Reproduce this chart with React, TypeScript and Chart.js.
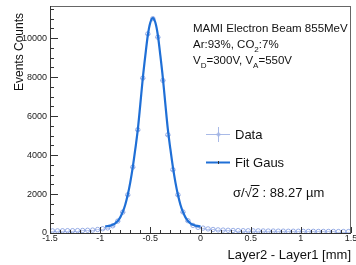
import React, { useEffect, useRef } from 'react';
import { Chart, registerables } from 'chart.js';

Chart.register(...registerables);

// ---- data ----
const binCenters = [
  -1.475, -1.425, -1.375, -1.325, -1.275, -1.225, -1.175, -1.125, -1.075, -1.025,
  -0.975, -0.925, -0.875, -0.825, -0.775, -0.725, -0.675, -0.625, -0.575, -0.525,
  -0.475, -0.425, -0.375, -0.325, -0.275, -0.225, -0.175, -0.125, -0.075, -0.025,
  0.025, 0.075, 0.125, 0.175, 0.225, 0.275, 0.325, 0.375, 0.425, 0.475,
  0.525, 0.575, 0.625, 0.675, 0.725, 0.775, 0.825, 0.875, 0.925, 0.975,
  1.025, 1.075, 1.125, 1.175, 1.225, 1.275, 1.325, 1.375, 1.425, 1.475,
];
const counts = [
  110, 110, 115, 120, 120, 125, 130, 140, 150, 180,
  220, 260, 370, 610, 1070, 1960, 3380, 5300, 7950, 10220,
  11000, 10050, 7830, 5040, 3250, 1960, 1080, 630, 390, 290,
  250, 210, 180, 160, 150, 140, 130, 125, 120, 115,
  110, 110, 105, 100, 100, 95, 95, 90, 90, 90,
  85, 85, 85, 80, 80, 80, 80, 75, 75, 75,
];
const fitX = [
  -0.95, -0.925, -0.9, -0.875, -0.85, -0.825, -0.8, -0.775, -0.75, -0.725,
  -0.7, -0.675, -0.65, -0.625, -0.6, -0.575, -0.55, -0.525, -0.5, -0.475,
  -0.45, -0.425, -0.4, -0.375, -0.35, -0.325, -0.3, -0.275, -0.25, -0.225,
  -0.2, -0.175, -0.15, -0.125, -0.1, -0.075, -0.05, -0.025, 0.0,
];
const fitY = [
  340, 350, 380, 420, 500, 620, 800, 1080, 1450, 1960,
  2600, 3380, 4300, 5300, 6600, 7950, 9100, 10150, 10800, 11030,
  10800, 10150, 9100, 7950, 6600, 5300, 4300, 3380, 2600, 1960,
  1450, 1080, 800, 620, 500, 420, 380, 350, 340,
];
const xMin = -1.5;
const xMax = 1.5;
const yMin = 0;
const yMax = 11650;
const binHalfWidth = 0.025;

const xMajorTicks = [-1.5, -1, -0.5, 0, 0.5, 1, 1.5];
const xTickLabels = ['-1.5', '-1', '-0.5', '0', '0.5', '1', '1.5'];
const xMinorStep = 0.1;
const yMajorTicks = [0, 2000, 4000, 6000, 8000, 10000];
const yTickLabels = ['0', '2000', '4000', '6000', '8000', '10000'];
const yMinorStep = 500;

const xTitle = 'Layer2 - Layer1 [mm]';
const yTitle = 'Events Counts';
const infoLine1 = 'MAMI Electron Beam 855MeV';
const legendData = 'Data';
const legendFit = 'Fit Gaus';
const sigmaText = ['σ/√', '2', ' : 88.27 µm'];

const FONT = '"Liberation Sans", Arial, Helvetica, sans-serif';
const FIT_COLOR = '#1f6fd6';
const DATA_COLOR = 'rgba(120,148,222,0.75)';
const ERR_COLOR = 'rgba(150,170,225,0.55)';

type Part = { t: string; sub?: boolean };

function drawRich(ctx: CanvasRenderingContext2D, parts: Part[], x: number, y: number, size: number) {
  let cx = x;
  parts.forEach((p) => {
    const s = p.sub ? size * 0.7 : size;
    ctx.font = `${s}px ${FONT}`;
    ctx.fillText(p.t, cx, p.sub ? y + size * 0.35 : y);
    cx += ctx.measureText(p.t).width;
  });
}

const errorBars = {
  id: 'errorBars',
  beforeDatasetsDraw(chart: any) {
    const { ctx, scales } = chart;
    const xs = scales.x;
    const ys = scales.y;
    ctx.save();
    ctx.strokeStyle = ERR_COLOR;
    ctx.lineWidth = 1;
    ctx.beginPath();
    binCenters.forEach((c, i) => {
      const n = counts[i];
      const e = Math.sqrt(n);
      const py = Math.round(ys.getPixelForValue(n)) + 0.5;
      ctx.moveTo(xs.getPixelForValue(c - binHalfWidth), py);
      ctx.lineTo(xs.getPixelForValue(c + binHalfWidth), py);
      const px = Math.round(xs.getPixelForValue(c)) + 0.5;
      ctx.moveTo(px, ys.getPixelForValue(n - e));
      ctx.lineTo(px, ys.getPixelForValue(n + e));
    });
    ctx.stroke();
    ctx.restore();
  },
};

const overlay = {
  id: 'overlay',
  afterDraw(chart: any) {
    const { ctx, chartArea: a, scales } = chart;
    const xs = scales.x;
    const ys = scales.y;
    ctx.save();
    // frame
    ctx.strokeStyle = '#666';
    ctx.lineWidth = 1;
    ctx.strokeRect(a.left + 0.5, a.top + 0.5, a.right - a.left - 1, a.bottom - a.top);
    // axes
    ctx.strokeStyle = '#333';
    ctx.beginPath();
    ctx.moveTo(a.left + 0.5, a.top);
    ctx.lineTo(a.left + 0.5, a.bottom + 0.5);
    ctx.lineTo(a.right, a.bottom + 0.5);
    // y ticks (minor + major)
    for (let k = 0; yMin + k * yMinorStep <= yMax + 1e-9; k++) {
      const v = yMin + k * yMinorStep;
      const y = Math.round(ys.getPixelForValue(v)) + 0.5;
      const len = yMajorTicks.includes(v) ? 8 : 4;
      ctx.moveTo(a.left, y);
      ctx.lineTo(a.left + len, y);
    }
    // x ticks
    const nx = Math.round((xMax - xMin) / xMinorStep);
    for (let k = 0; k <= nx; k++) {
      const v = xMin + k * xMinorStep;
      const x = Math.round(xs.getPixelForValue(v)) + 0.5;
      const isMajor = xMajorTicks.some((m) => Math.abs(m - v) < 1e-6);
      const len = isMajor ? 6 : 3;
      ctx.moveTo(x, a.bottom);
      ctx.lineTo(x, a.bottom - len);
    }
    ctx.stroke();

    // tick labels
    ctx.fillStyle = '#222';
    ctx.font = `9px ${FONT}`;
    ctx.textAlign = 'right';
    ctx.textBaseline = 'middle';
    yMajorTicks.forEach((v, i) => {
      ctx.fillText(yTickLabels[i], a.left - 3, ys.getPixelForValue(v));
    });
    ctx.textAlign = 'center';
    xMajorTicks.forEach((v, i) => {
      ctx.fillText(xTickLabels[i], xs.getPixelForValue(v), a.bottom + 5.5);
    });

    // axis titles
    ctx.fillStyle = '#111';
    ctx.font = `13px ${FONT}`;
    ctx.textAlign = 'right';
    ctx.textBaseline = 'middle';
    ctx.fillText(xTitle, a.right, 255);
    ctx.save();
    ctx.translate(20, 13);
    ctx.rotate(-Math.PI / 2);
    ctx.font = `12px ${FONT}`;
    ctx.textAlign = 'right';
    ctx.fillText(yTitle, 0, 0);
    ctx.restore();

    // info text
    ctx.textAlign = 'left';
    ctx.textBaseline = 'alphabetic';
    ctx.font = `11.5px ${FONT}`;
    ctx.fillText(infoLine1, 193, 32);
    drawRich(ctx, [{ t: 'Ar:93%, CO' }, { t: '2', sub: true }, { t: ':7%' }], 193, 48, 11.5);
    drawRich(
      ctx,
      [{ t: 'V' }, { t: 'D', sub: true }, { t: '=300V, V' }, { t: 'A', sub: true }, { t: '=550V' }],
      193,
      64,
      11.5
    );

    // legend: Data
    ctx.strokeStyle = 'rgba(160,178,228,0.9)';
    ctx.lineWidth = 1;
    ctx.beginPath();
    ctx.moveTo(206, 134.5);
    ctx.lineTo(230, 134.5);
    ctx.moveTo(218.5, 127);
    ctx.lineTo(218.5, 142);
    ctx.stroke();
    ctx.beginPath();
    ctx.arc(218.5, 134.5, 1.6, 0, Math.PI * 2);
    ctx.stroke();
    // legend: Fit
    ctx.strokeStyle = FIT_COLOR;
    ctx.lineWidth = 2;
    ctx.beginPath();
    ctx.moveTo(206, 162.5);
    ctx.lineTo(230, 162.5);
    ctx.stroke();
    ctx.strokeStyle = '#333';
    ctx.lineWidth = 1;
    ctx.beginPath();
    ctx.moveTo(218.5, 161);
    ctx.lineTo(218.5, 164);
    ctx.stroke();

    ctx.fillStyle = '#111';
    ctx.font = `13px ${FONT}`;
    ctx.textBaseline = 'middle';
    ctx.fillText(legendData, 235, 135);
    ctx.fillText(legendFit, 235, 163);
    // sigma text with overline over radicand
    ctx.textBaseline = 'alphabetic';
    const sx = 233;
    const sy = 197;
    ctx.fillText(sigmaText.join(''), sx, sy);
    const w1 = ctx.measureText(sigmaText[0]).width;
    const w2 = ctx.measureText(sigmaText[1]).width;
    ctx.strokeStyle = '#111';
    ctx.lineWidth = 1;
    ctx.beginPath();
    ctx.moveTo(sx + w1 - 1, sy - 11.5);
    ctx.lineTo(sx + w1 + w2 + 0.5, sy - 11.5);
    ctx.stroke();

    ctx.restore();
  },
};

export default function App() {
  const ref = useRef<HTMLCanvasElement | null>(null);
  useEffect(() => {
    if (!ref.current) return;
    const chart = new Chart(ref.current, {
      type: 'scatter',
      data: {
        datasets: [
          {
            label: 'Fit Gaus',
            type: 'line',
            data: fitX.map((x, i) => ({ x, y: fitY[i] })),
            borderColor: FIT_COLOR,
            borderWidth: 2.2,
            pointRadius: 0,
            fill: false,
            cubicInterpolationMode: 'monotone',
            order: 0,
          } as any,
          {
            label: 'Data',
            data: binCenters.map((x, i) => ({ x, y: counts[i] })),
            borderColor: DATA_COLOR,
            backgroundColor: 'rgba(0,0,0,0)',
            borderWidth: 1,
            pointRadius: 2.2,
            pointStyle: 'circle',
            showLine: false,
            order: 1,
          },
        ],
      },
      options: {
        responsive: false,
        animation: false,
        devicePixelRatio: 1,
        layout: { padding: { left: 0, right: 4, top: 6, bottom: 0 } },
        plugins: { legend: { display: false }, tooltip: { enabled: false }, title: { display: false } },
        scales: {
          x: {
            type: 'linear',
            min: xMin,
            max: xMax,
            grid: { display: false },
            border: { display: false },
            ticks: { display: false },
            afterFit: (s: any) => {
              s.height = 32;
            },
          },
          y: {
            type: 'linear',
            min: yMin,
            max: yMax,
            grid: { display: false },
            border: { display: false },
            ticks: { display: false },
            afterFit: (s: any) => {
              s.width = 50;
            },
          },
        },
      },
      plugins: [errorBars, overlay],
    });
    return () => chart.destroy();
  }, []);
  return (
    <div style={{ position: 'absolute', left: 0, top: 0, width: 356, height: 265, background: '#fff' }}>
      <canvas ref={ref} width={356} height={265} style={{ display: 'block', width: 356, height: 265 }} />
    </div>
  );
}
